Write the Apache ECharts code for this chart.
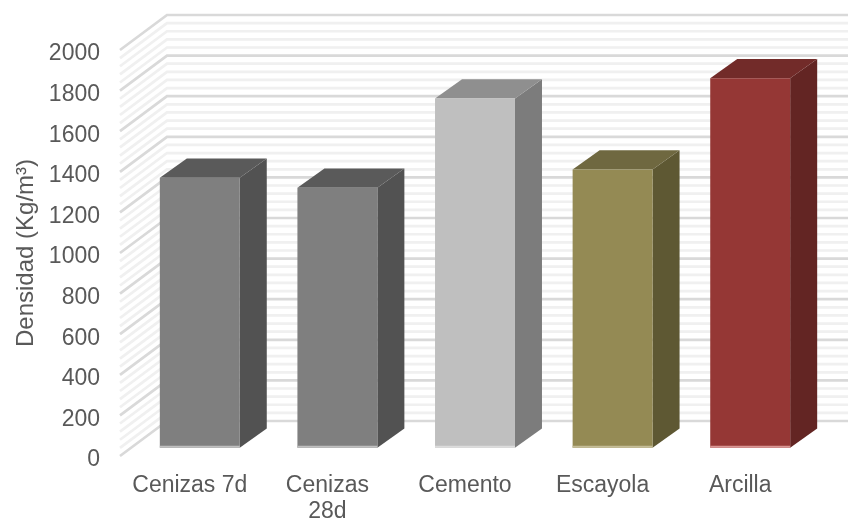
<!DOCTYPE html>
<html>
<head>
<meta charset="utf-8">
<style>html,body{margin:0;padding:0;background:#fff}#chart{width:848px;height:518px}</style>
<script src="https://cdn.jsdelivr.net/npm/echarts@6/dist/echarts.min.js"></script>
</head>
<body>
<div id="chart"></div>
<script>
const categories = ['Cenizas 7d', 'Cenizas\n28d', 'Cemento', 'Escayola', 'Arcilla'];
const densidad = [1330, 1280, 1720, 1370, 1820];
const majorLevels = [0, 200, 400, 600, 800, 1000, 1200, 1400, 1600, 1800, 2000];
const minorLevels = [];
for (let v = 0; v < 2000; v += 40) if (v % 200 !== 0) minorLevels.push(v);

// face, top, side and base-edge tones for each column
const palette = [
  ['#7f7f7f', '#5a5a5a', '#525252', '#bfbfbf'],
  ['#7f7f7f', '#5a5a5a', '#525252', '#bfbfbf'],
  ['#bfbfbf', '#8f8f8f', '#7c7c7c', '#dcdcdc'],
  ['#948a54', '#6f6840', '#5e5833', '#c4bd97'],
  ['#953735', '#722b29', '#632523', '#d99694']
];

// Oblique projection of the chart's box
const WALL_DX = 47, WALL_DY = -35;
const BAR_SHIFT_X = 10, BAR_SHIFT_Y = -8.3;
const BAR_DX = 27, BAR_DY = -19.3, BAR_WIDTH = 0.581;

function wallRenderer(color, width) {
  return function (params, api) {
    const cs = params.coordSys;
    const y = api.coord([0, api.value(1)])[1];
    return {
      type: 'polyline',
      shape: { points: [[cs.x - 1, y], [cs.x - 1 + WALL_DX, y + WALL_DY], [848, y + WALL_DY]] },
      style: { stroke: color, lineWidth: width, fill: null },
      silent: true
    };
  };
}

function renderColumn(params, api) {
  const i = api.value(0);
  const top = api.coord([i, api.value(1)]);
  const base = api.coord([i, 0]);
  const w = api.size([1, 0])[0] * BAR_WIDTH;
  const x0 = top[0] + BAR_SHIFT_X - w / 2, x1 = x0 + w;
  const yt = top[1] + BAR_SHIFT_Y, yb = base[1] + BAR_SHIFT_Y;
  const c = palette[i];
  const poly = (points, fill) => ({ type: 'polygon', shape: { points }, style: { fill } });
  return {
    type: 'group',
    children: [
      poly([[x1, yt], [x1 + BAR_DX, yt + BAR_DY], [x1 + BAR_DX, yb + BAR_DY], [x1, yb]], c[2]),
      poly([[x0, yt], [x1, yt], [x1 + BAR_DX, yt + BAR_DY], [x0 + BAR_DX, yt + BAR_DY]], c[1]),
      poly([[x0, yt], [x1, yt], [x1, yb], [x0, yb]], c[0]),
      poly([[x0, yb - 2], [x1, yb - 2], [x1, yb], [x0, yb]], c[3])
    ]
  };
}

const chart = echarts.init(document.getElementById('chart'), null, { renderer: 'canvas' });
const textColor = '#595959';
const fontFamily = '"Liberation Sans", Arial, sans-serif';

chart.setOption({
  animation: false,
  backgroundColor: '#fff',
  grid: { left: 121, top: 50, width: 688, height: 406, outerBoundsMode: 'none' },
  xAxis: {
    type: 'category',
    data: categories,
    axisLine: { show: false },
    axisTick: { show: false },
    axisLabel: { color: textColor, fontFamily, fontSize: 23, margin: 17, lineHeight: 26, interval: 0, hideOverlap: false }
  },
  yAxis: {
    type: 'value',
    min: 0,
    max: 2000,
    interval: 200,
    name: 'Densidad (Kg/m³)',
    nameLocation: 'middle',
    nameGap: 83,
    nameTextStyle: { color: textColor, fontFamily, fontSize: 24 },
    axisLine: { show: false },
    axisTick: { show: false },
    splitLine: { show: false },
    axisLabel: { color: textColor, fontFamily, fontSize: 23, margin: 21, verticalAlign: 'top', lineHeight: 8, formatter: v => String(v), showMinLabel: true, showMaxLabel: true, hideOverlap: false }
  },
  series: [
    {
      type: 'custom', clip: false, z: 1,
      renderItem: wallRenderer('#f0f0f0', 2.7),
      data: minorLevels.map(v => [0, v]),
      encode: { x: 0, y: 1 }, silent: true
    },
    {
      type: 'custom', clip: false, z: 2,
      renderItem: wallRenderer('#d9d9d9', 2.7),
      data: majorLevels.map(v => [0, v]),
      encode: { x: 0, y: 1 }, silent: true
    },
    {
      type: 'custom', clip: false, z: 3,
      renderItem: renderColumn,
      data: densidad.map((v, i) => [i, v]),
      encode: { x: 0, y: 1 }
    }
  ]
});
</script>
</body>
</html>
